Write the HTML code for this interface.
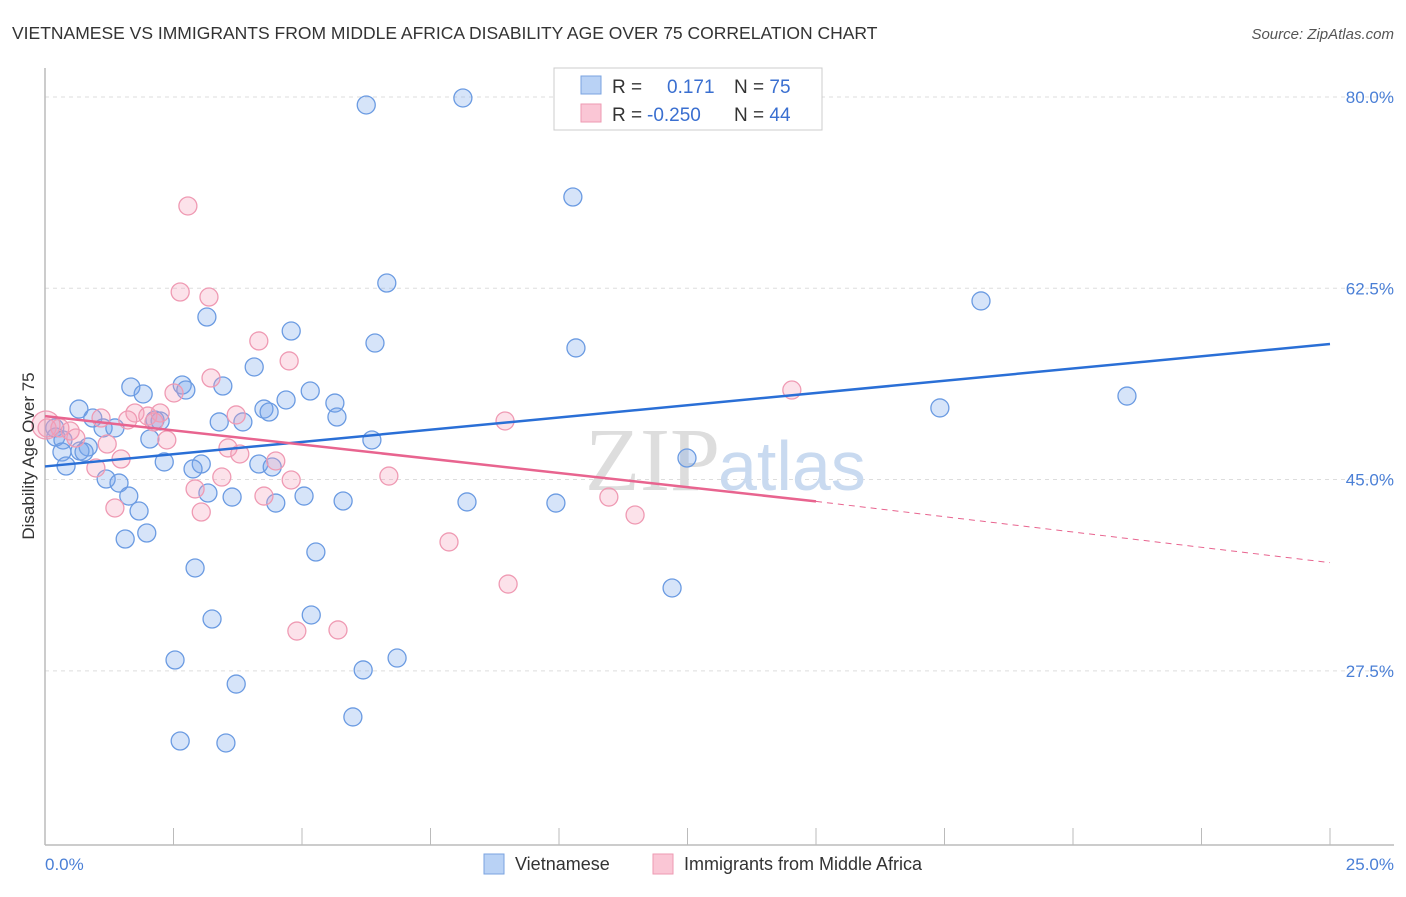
<!DOCTYPE html>
<html><head><meta charset="utf-8"><style>
body{margin:0;background:#fff;font-family:"Liberation Sans",sans-serif}
</style></head><body>
<svg width="1406" height="892" xmlns="http://www.w3.org/2000/svg" font-family="Liberation Sans, sans-serif">
<text x="12" y="39" font-size="17.5" fill="#333">VIETNAMESE VS IMMIGRANTS FROM MIDDLE AFRICA DISABILITY AGE OVER 75 CORRELATION CHART</text>
<text x="1394" y="39" font-size="15" fill="#555" font-style="italic" text-anchor="end">Source: ZipAtlas.com</text>
<g id="grid"></g>
<text x="720" y="490" font-size="90" fill="#ddd" font-family="Liberation Serif, serif" text-anchor="end">ZIP</text>
<text x="718" y="490" font-size="70" fill="#c9daf0">atlas</text>
<line x1="45" y1="68" x2="45" y2="845" stroke="#bbb" stroke-width="1.5"/>
<line x1="45" y1="845" x2="1394" y2="845" stroke="#bbb" stroke-width="1.5"/>
<g id="pts"></g>
<g id="lines"></g>
<text transform="translate(34,456) rotate(-90)" font-size="17" fill="#333" text-anchor="middle">Disability Age Over 75</text>
<text x="45" y="870" font-size="17" fill="#4a7fd6">0.0%</text>
<text x="1394" y="870" font-size="17" fill="#4a7fd6" text-anchor="end">25.0%</text>
<g>
<rect x="484" y="854" width="20" height="20" fill="#b9d2f5" stroke="#7aa3e0"/>
<text x="515" y="870" font-size="18" fill="#333">Vietnamese</text>
<rect x="653" y="854" width="20" height="20" fill="#fac6d5" stroke="#ee9ab2"/>
<text x="684" y="870" font-size="18" fill="#333">Immigrants from Middle Africa</text>
</g>
<g>
<rect x="554" y="68" width="268" height="62" fill="#fff" stroke="#ccc"/>
<rect x="581" y="76" width="20" height="18" fill="#b9d2f5" stroke="#7aa3e0"/>
<rect x="581" y="104" width="20" height="18" fill="#fac6d5" stroke="#ee9ab2"/>
<text x="612" y="93" font-size="19" fill="#333">R = <tspan x="667" fill="#3a6fd0">0.171</tspan><tspan x="734" fill="#333">N = </tspan><tspan fill="#3a6fd0">75</tspan></text>
<text x="612" y="121" font-size="19" fill="#333">R = <tspan x="647" fill="#3a6fd0">-0.250</tspan><tspan x="734" fill="#333">N = </tspan><tspan fill="#3a6fd0">44</tspan></text>
</g>
</svg>
<script>
const yTicks=[80,62.5,45,27.5];
const xTicks=[0,2.5,5,7.5,10,12.5,15,17.5,20,22.5,25];
const bluePx=[[366,105],[463,98],[573,197],[387,283],[981,301],[207,317],[291,331],[375,343],[576,348],[254,367],[131,387],[182,385],[223,386],[143,394],[186,390],[310,391],[286,400],[335,403],[264,409],[269,412],[337,417],[940,408],[1127,396],[79,409],[93,418],[155,420],[160,421],[219,422],[243,422],[103,428],[115,428],[55,428],[56,437],[150,439],[372,440],[63,440],[88,447],[80,451],[62,452],[84,452],[66,466],[164,462],[201,464],[193,469],[259,464],[272,467],[687,458],[106,479],[119,483],[129,496],[208,493],[232,497],[304,496],[343,501],[276,503],[467,502],[556,503],[139,511],[125,539],[147,533],[316,552],[195,568],[672,588],[311,615],[212,619],[175,660],[397,658],[363,670],[236,684],[353,717],[180,741],[226,743]];
const pinkPx=[[188,206],[180,292],[209,297],[259,341],[289,361],[211,378],[174,393],[792,390],[135,413],[148,416],[160,413],[101,418],[154,422],[128,420],[236,415],[505,421],[47,428],[60,428],[70,431],[76,438],[167,440],[107,444],[228,448],[240,454],[121,459],[276,461],[96,468],[291,480],[389,476],[222,477],[195,489],[264,496],[609,497],[115,508],[201,512],[635,515],[449,542],[508,584],[297,631],[338,630],[46,425]];
// data values (x in %, y in %)
const blueX=bluePx.map(p=>+((p[0]-45)/51.4).toFixed(2));
const blueY=bluePx.map(p=>+(80-(p[1]-97)/10.93).toFixed(2));
const pinkX=pinkPx.map(p=>+((p[0]-45)/51.4).toFixed(2));
const pinkY=pinkPx.map(p=>+(80-(p[1]-97)/10.93).toFixed(2));
const blueTrend=[[0,46.2],[25,57.4]];
const pinkTrend=[[0,50.8],[15,43.0],[25,37.4]];
const NS="http://www.w3.org/2000/svg";
const sx=v=>45+v*51.4, sy=v=>97+(80-v)*10.93;
function mk(tag,attrs,parent){const e=document.createElementNS(NS,tag);for(const k in attrs)e.setAttribute(k,attrs[k]);parent.appendChild(e);return e;}
const grid=document.getElementById('grid');
yTicks.forEach(t=>{
 const l=mk('line',{x1:45,x2:1394,y1:sy(t),y2:sy(t),stroke:'#ddd','stroke-dasharray':'4,4'},grid);
 
 
 const tx=mk('text',{x:1394,y:sy(t)+6,'font-size':17,fill:'#4a7fd6','text-anchor':'end'},grid);
 tx.textContent=t.toFixed(1)+'%';
 
 
});
xTicks.forEach(t=>{
 const l=mk('line',{x1:sx(t),x2:sx(t),y1:828,y2:845,stroke:'#bbb'},grid);
 
 
});
const pts=document.getElementById('pts');
blueX.forEach((x,i)=>{
 const c=mk('circle',{cx:sx(x),cy:sy(blueY[i]),r:9,fill:'rgba(120,165,235,0.3)',stroke:'#6b9be2','stroke-width':1.3},pts);
 
 
});
pinkX.forEach((x,i)=>{
 const c=mk('circle',{cx:sx(x),cy:sy(pinkY[i]),r:i==pinkX.length-1?14:9,fill:'rgba(245,160,185,0.3)',stroke:'#ef9ab3','stroke-width':1.3},pts);
 
 
});
const lines=document.getElementById('lines');
const bl=mk('line',{x1:sx(blueTrend[0][0]),y1:sy(blueTrend[0][1]),x2:sx(blueTrend[1][0]),y2:sy(blueTrend[1][1]),stroke:'#2a6fd6','stroke-width':2.5},lines);


const pl=mk('line',{x1:sx(pinkTrend[0][0]),y1:sy(pinkTrend[0][1]),x2:sx(pinkTrend[1][0]),y2:sy(pinkTrend[1][1]),stroke:'#e8648f','stroke-width':2.5},lines);


const pd=mk('line',{x1:sx(pinkTrend[1][0]),y1:sy(pinkTrend[1][1]),x2:sx(pinkTrend[2][0]),y2:sy(pinkTrend[2][1]),stroke:'#e8648f','stroke-width':1,'stroke-dasharray':'6,5'},lines);


</script>
</body></html>
